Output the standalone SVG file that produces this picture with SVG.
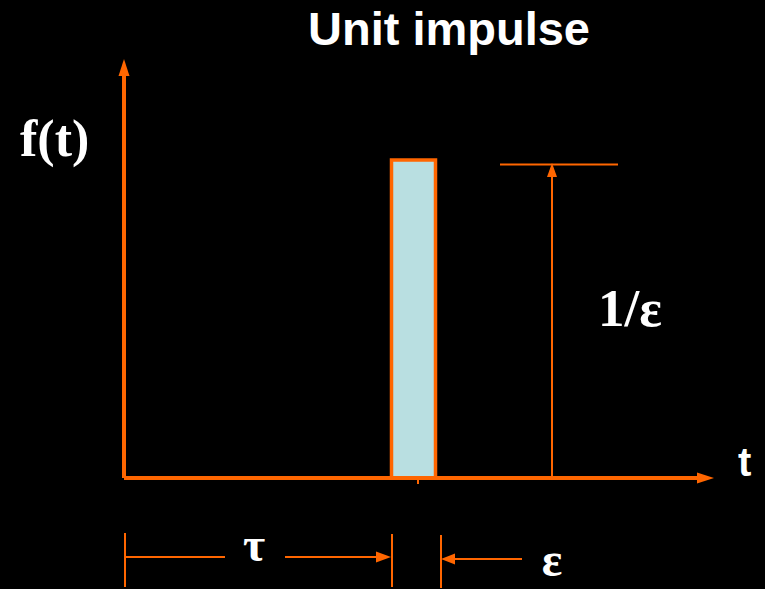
<svg xmlns="http://www.w3.org/2000/svg" width="765" height="589" viewBox="0 0 765 589">
<defs>
<style>
.ln{stroke:#FF6600;fill:none}
.ah{fill:#FF6600}
.serif{font-family:"Liberation Serif","Times New Roman",serif;font-weight:bold;fill:#fff}
.sans{font-family:"Liberation Sans",Arial,sans-serif;font-weight:bold;fill:#fff}
</style>
</defs>
<rect x="0" y="0" width="765" height="589" fill="#000"/>
<g id="title"><text class="sans" x="449" y="45" font-size="47" text-anchor="middle">Unit impulse</text></g>
<g id="pulse">
<rect x="391.5" y="160" width="44" height="318" fill="#B9DFE1" stroke="#FF6600" stroke-width="3.5"/>
</g>
<g id="connectors">
<line class="ln" x1="124" y1="478" x2="124" y2="74" stroke-width="4"/>
<polygon class="ah" points="124,59 118.5,76 129.5,76"/>
<line class="ln" x1="124" y1="478" x2="699" y2="478" stroke-width="4"/>
<polygon class="ah" points="714,478 697,472.5 697,483.5"/>
<line class="ln" x1="418" y1="478" x2="418" y2="484" stroke-width="2"/>
<line class="ln" x1="500" y1="164.5" x2="618" y2="164.5" stroke-width="2"/>
<line class="ln" x1="552" y1="478" x2="552" y2="175" stroke-width="2"/>
<polygon class="ah" points="552,163 547,177 557,177"/>
<line class="ln" x1="125" y1="533" x2="125" y2="587" stroke-width="2"/>
<line class="ln" x1="125" y1="557" x2="225" y2="557" stroke-width="2"/>
<line class="ln" x1="285" y1="557" x2="380" y2="557" stroke-width="2"/>
<polygon class="ah" points="391,557 376,551.5 376,562.5"/>
<line class="ln" x1="392" y1="534" x2="392" y2="587" stroke-width="2"/>
<line class="ln" x1="441" y1="535" x2="441" y2="588" stroke-width="2"/>
<line class="ln" x1="452" y1="559" x2="522" y2="559" stroke-width="2"/>
<polygon class="ah" points="441,559 455,553.5 455,564.5"/>
</g>
<g id="labels">
<text class="serif" x="20" y="156" font-size="52">f(t)</text>
<text class="serif" x="598" y="326" font-size="53">1/ε</text>
<text class="sans" x="738" y="476" font-size="40">t</text>
<text class="serif" x="254" y="561" font-size="48" text-anchor="middle">τ</text>
<text class="serif" x="552" y="576" font-size="48" text-anchor="middle">ε</text>
</g>
</svg>
